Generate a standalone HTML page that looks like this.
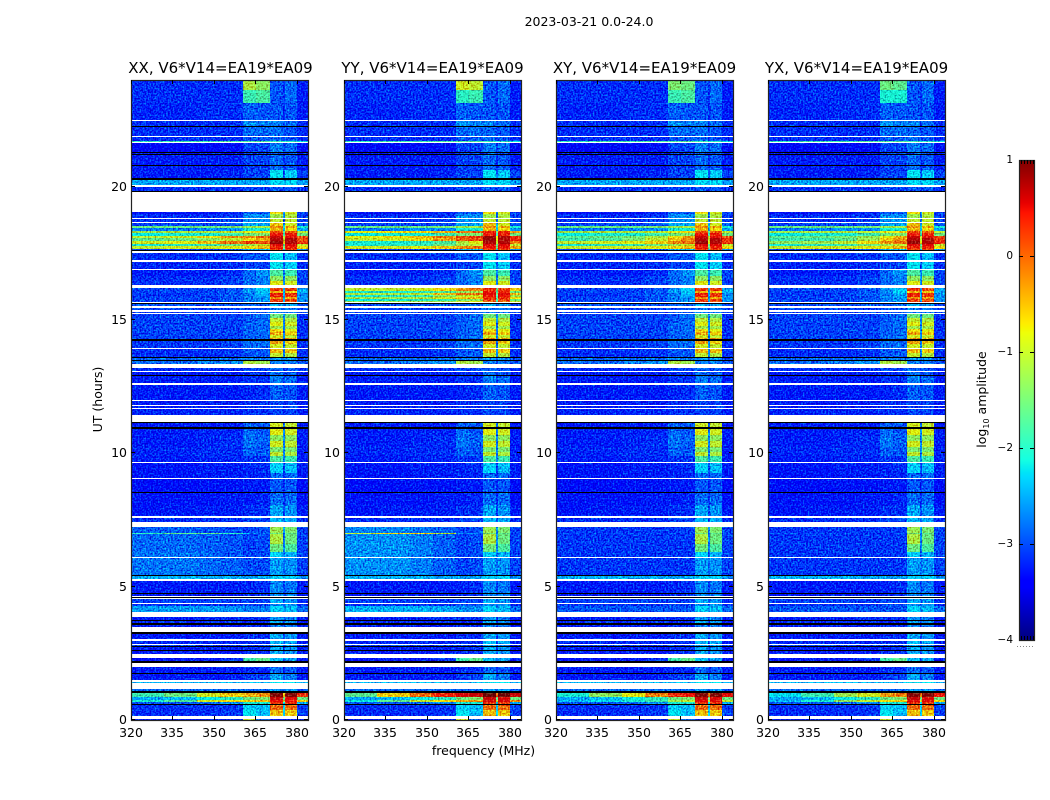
<!DOCTYPE html>
<html lang="en">
<head>
<meta charset="utf-8">
<title>2023-03-21 0.0-24.0</title>
<style>
html,body{margin:0;padding:0;background:#fff;}
svg{display:block;}
text{font-family:"DejaVu Sans","Liberation Sans",sans-serif;fill:#000;}
</style>
</head>
<body>
<svg id="figure" xmlns="http://www.w3.org/2000/svg" width="1050" height="800" viewBox="0 0 1050 800">
  <defs>
    <filter id="speckle" x="0" y="0" width="100%" height="100%" color-interpolation-filters="sRGB">
      <feTurbulence type="fractalNoise" baseFrequency="0.6" numOctaves="1" seed="4" result="noise"/>
      <feColorMatrix in="noise" type="matrix" result="tinted" values="0.3 0 0 0 0.27  1.6 0 0 0 -0.36  0.8 0 0 0 0.1  0 0 0 0 1"/>
      <feComposite in="SourceGraphic" in2="tinted" operator="arithmetic" k1="0" k2="1" k3="1" k4="-0.5" result="mixed"/>
      <feComposite in="mixed" in2="SourceAlpha" operator="in"/>
    </filter>
  </defs>
  <rect x="0" y="0" width="1050" height="800" fill="#fff"/>
  <text x="589" y="26" font-size="12.5" text-anchor="middle">2023-03-21 0.0-24.0</text>
  <text x="0" y="0" font-size="12.5" text-anchor="middle" transform="translate(102,399.5) rotate(-90)">UT (hours)</text>
  <text x="483.5" y="755" font-size="12.5" text-anchor="middle">frequency (MHz)</text>
  <text x="0" y="0" font-size="12.5" text-anchor="middle" transform="translate(986,399.5) rotate(-90)">log<tspan font-size="8" dy="3">10</tspan><tspan dy="-3"> amplitude</tspan></text>
  <g id="panels"></g>
  <g id="colorbar"></g>
</svg>
<script>
// Frequency bin edges (MHz) shared by all rows
const freqEdges = [320, 332, 344, 352, 360.5, 365.3, 370.4, 375, 375.8, 380, 384];

// Axis tick labels
const freqTicks = [320, 335, 350, 365, 380];
const utTicks = [0, 5, 10, 15, 20];
const cbarTicks = [-4, -3, -2, -1, 0, 1];

// XX spectrum: [lower UT edge, log10 amplitude per frequency bin].
// A row with only an edge has no data (white); 'k' marks a black flagged row.
const rowsXX = [
[23.625,-3.1,-3.1,-3.1,-3.1,-1.1,-1.3,-2.9,-3.1,-2.8,-3.2],
[23.14,-3.1,-3.1,-3.1,-3.1,-1.8,-1.7,-2.9,-3.1,-2.8,-3.2],
[22.5,-3.15,-3.15,-3.1,-3.1,-2.85,-2.9,-2.9,-3.1,-2.9,-3.2],
[22.46],
[22.26,-3.1,-3.1,-3.1,-3.1,-2.6,-2.7,-2.7,-3,-2.8,-3.1],
[22.22,'k'],
[21.9,-3.1,-3.1,-3.1,-3.1,-2.8,-2.8,-2.8,-3,-2.9,-3.1],
[21.86],
[21.71,-3.1,-3.1,-3.1,-3.1,-2.9,-2.9,-2.8,-3,-2.9,-3.1],
[21.66,-1.9,-1.8,-1.8,-1.7,-1.7,-1.7,-1.8,-2,-1.9,-2.1],
[21.64],
[21.3,-3.35,-3.35,-3.35,-3.3,-3,-3,-2.7,-3,-2.8,-3.3],
[21.26,'k'],
[21.23,-3.2,-3.2,-3.2,-3.2,-3,-3,-2.9,-3.1,-2.9,-3.2],
[21.19,'k'],
[20.81,-3.2,-3.2,-3.2,-3.2,-3,-3,-2.8,-3.1,-2.9,-3.2],
[20.78,'k'],
[20.63,-3.2,-3.2,-3.2,-3.2,-3,-3,-2.8,-3.1,-2.9,-3.2],
[20.31,-3.2,-3.2,-3.2,-3.15,-3,-3,-2.2,-2.9,-2.3,-3],
[20.26,'k'],
[20.06,-2.5,-2.5,-2.5,-2.5,-2.5,-2.5,-2.25,-2.45,-2.25,-2.55],
[19.99],
[19.84,-3.1,-3.1,-3.1,-3.1,-3,-3,-2.9,-3,-2.9,-3.1],
[19.8,'k'],
[19.05],
[18.99,-3.3,-3.3,-3.3,-3.2,-2.9,-2.9,-0.7,-2.6,-0.9,-3],
[18.96],
[18.83,-3.1,-3.1,-3.1,-3.05,-2.6,-2.6,-1.2,-2.8,-1.1,-3],
[18.77],
[18.68,-3.1,-3.1,-3.1,-3,-2.6,-2.6,-1,-2.8,-1,-3],
[18.64],
[18.53,-3,-3,-3,-2.9,-2.5,-2.5,-0.6,-2.6,-0.9,-2.9],
[18.45,-1.5,-1.5,-1.5,-1.4,-1.2,-1.1,-0.2,-2,-0.4,-2],
[18.34,-2.7,-2.7,-2.6,-2.6,-2,-2,-0.5,-2.4,-0.7,-2.5],
[18.26,-1.2,-1.1,-1.1,-1,-0.8,-0.7,0.1,-1.6,0,-1],
[18.15,-2.1,-2,-2,-1.8,-1.5,-1.4,0.4,-1.8,0.3,-1.5],
[18.08,-1,-0.9,-0.7,-0.3,-0.2,-0.1,0.6,-1,0.5,0.1],
[17.96,-1.6,-1.5,-1.3,-1,-0.6,-0.4,0.7,-1,0.7,0],
[17.85,-0.9,-0.8,-0.5,-0.1,0.1,0.1,0.8,-0.6,0.7,0.2],
[17.78,-2,-1.9,-1.8,-1.5,-1.2,-1,0.5,-1.6,0.5,-1],
[17.68,-1,-0.9,-0.9,-0.8,-0.7,-0.5,0.3,-1.4,0.3,-0.7],
[17.63,-3,-3,-3,-2.9,-2.5,-2.4,0.1,-2.4,0.1,-2.6],
[17.59,'k'],
[17.53],
[17.25,-3.1,-3.1,-3.1,-3.05,-2.9,-2.9,-2.2,-2.9,-2.4,-3.1],
[17.16],
[16.91,-3.15,-3.15,-3.15,-3.1,-3,-3,-2.2,-2.9,-2.3,-3.1],
[16.88],
[16.65,-3.2,-3.2,-3.2,-3.1,-2.8,-2.6,-1.7,-2.7,-1.8,-3],
[16.47,-3.1,-3.1,-3.1,-3,-2.8,-2.7,-1.3,-2.7,-1.3,-3],
[16.31,-3.1,-3.1,-3.1,-3,-2.8,-2.7,-0.8,-2.7,-0.9,-3],
[16.19],
[16.1,-3,-3,-3,-2.9,-2.6,-2.3,0.2,-2.5,0.1,-2.5],
[16.01,-3,-3,-3,-2.9,-2.6,-2.3,-0.5,-2.5,-0.6,-2.5],
[15.86,-3.05,-3.05,-3,-2.9,-2.7,-2.5,0.3,-2.5,0.2,-2.6],
[15.78,-3,-3,-3,-2.9,-2.7,-2.6,-0.3,-2.5,-0.4,-2.6],
[15.675,-3,-3,-3,-2.9,-2.7,-2.6,0.2,-2.5,0.1,-2.6],
[15.64],
[15.6,'k'],
[15.51,-2.9,-2.9,-2.9,-2.9,-2.85,-2.85,-2.5,-2.8,-2.5,-3],
[15.45],
[15.39,-3,-3,-3,-3,-2.9,-2.9,-2.7,-2.9,-2.7,-3],
[15.3],
[15.26,-3,-3,-3,-3,-2.9,-2.9,-2.7,-2.9,-2.7,-3],
[15.225],
[15.075,-3,-3,-3,-3,-2.9,-2.8,-1.5,-2.7,-1.5,-3.1],
[14.925,-3,-3,-3,-3,-2.9,-2.8,-1,-2.7,-1.1,-3.1],
[14.775,-3,-3,-3,-3,-2.85,-2.8,-0.8,-2.7,-0.9,-3.1],
[14.66,-3,-3,-3,-3,-2.85,-2.8,-1.2,-2.7,-1.2,-3.1],
[14.55,-3,-3,-3,-3,-2.85,-2.8,-0.7,-2.7,-0.8,-3.1],
[14.44,-3,-3,-3,-3,-2.85,-2.8,-0.4,-2.7,-0.6,-3.1],
[14.33,-3,-3,-3,-3,-2.85,-2.8,-0.9,-2.7,-1,-3.1],
[14.27,-3,-3,-3,-3,-2.85,-2.8,-0.3,-2.7,-0.5,-3.1],
[14.23,'k'],
[14.1,-3.05,-3.05,-3.05,-3,-2.8,-2.8,-0.4,-2.7,-0.6,-3.1],
[13.95,-3.05,-3.05,-3.05,-3,-2.8,-2.8,-0.9,-2.7,-1,-3.1],
[13.91],
[13.75,-3.1,-3.1,-3.1,-3.05,-2.9,-2.9,-0.5,-2.7,-0.6,-3.1],
[13.61,-3.1,-3.1,-3.1,-3.05,-2.9,-2.9,-1,-2.7,-1.1,-3.1],
[13.56,'k'],
[13.5,-2.8,-2.8,-2.8,-2.8,-2.7,-2.7,-2.6,-2.8,-2.6,-2.9],
[13.46,'k'],
[13.35,-2.8,-2.8,-2.7,-2.6,-1.1,-1.2,-2.7,-2.9,-2.7,-2.9],
[13.2],
[13.09,-3.1,-3.1,-3.1,-3.1,-3,-3,-2.8,-3,-2.9,-3.1],
[13.05],
[12.93,-3.2,-3.2,-3.2,-3.2,-3.1,-3.1,-2.8,-3,-2.9,-3.2],
[12.89,'k'],
[12.64,-3.2,-3.2,-3.2,-3.2,-3.1,-3.1,-2.7,-3,-2.8,-3.2],
[12.56],
[12,-3.2,-3.2,-3.2,-3.2,-3.15,-3.1,-2.85,-3,-2.9,-3.2],
[11.96],
[11.81,-3.2,-3.2,-3.2,-3.2,-3.1,-3.1,-3,-3.1,-3,-3.2],
[11.78],
[11.7,-3.2,-3.2,-3.2,-3.2,-3.1,-3.1,-3,-3.1,-3,-3.2],
[11.66],
[11.42,-3.15,-3.15,-3.15,-3.15,-3.1,-3.1,-3,-3.1,-3,-3.2],
[11.175],
[11.12,'k'],
[10.97,-3.2,-3.2,-3.2,-3.2,-2.85,-2.9,-0.9,-2.8,-1,-3.2],
[10.93,'k'],
[10.69,-3.2,-3.2,-3.15,-3.15,-2.8,-2.9,-0.8,-2.7,-0.9,-3.2],
[10.47,-3.2,-3.2,-3.15,-3.1,-2.75,-2.85,-1.3,-2.7,-1.3,-3.2],
[10.24,-3.2,-3.2,-3.15,-3.1,-2.75,-2.85,-0.9,-2.7,-1,-3.2],
[10.05,-3.15,-3.15,-3.1,-3.1,-2.85,-2.9,-1.4,-2.7,-1.4,-3.2],
[9.9,-3.15,-3.15,-3.1,-3.1,-2.85,-2.9,-1,-2.7,-1.1,-3.2],
[9.675,-3.2,-3.2,-3.15,-3.15,-3.05,-3.05,-1.7,-2.7,-1.8,-3.2],
[9.64],
[9.26,-3.25,-3.25,-3.2,-3.2,-3.15,-3.1,-2.3,-3,-2.4,-3.2],
[9.075,-3.25,-3.25,-3.2,-3.2,-3.15,-3.15,-2.8,-3.1,-2.8,-3.2],
[9.04],
[8.55,-3.3,-3.3,-3.25,-3.25,-3.2,-3.2,-2.9,-3.1,-2.9,-3.3],
[8.51,'k'],
[8.06,-3.25,-3.25,-3.25,-3.2,-3.2,-3.15,-2.8,-3.1,-2.8,-3.3],
[7.65,-3.25,-3.2,-3.2,-3.2,-3.1,-3.1,-2.5,-3,-2.6,-3.2],
[7.575],
[7.425,-3.1,-3.1,-3.1,-3.1,-3,-3,-2.4,-2.9,-2.5,-3.1],
[7.23],
[7.03,-2.85,-2.85,-2.9,-2.95,-3,-2.9,-1.2,-2.6,-1.4,-3],
[6.975,-1.9,-1.6,-1.6,-1.9,-2.6,-2.8,-1.5,-2.8,-1.6,-3],
[6.6,-2.8,-2.8,-2.85,-2.9,-3,-2.95,-1.1,-2.7,-1.5,-3],
[6.3,-2.8,-2.8,-2.85,-2.9,-3,-2.95,-1.5,-2.7,-1.7,-3],
[6.11,-2.75,-2.75,-2.8,-2.9,-3,-2.95,-2.3,-2.8,-2.45,-3],
[6.075],
[5.44,-2.75,-2.75,-2.8,-2.85,-2.95,-2.95,-2.55,-2.8,-2.6,-3],
[5.4,'k'],
[5.29,-2.45,-2.45,-2.45,-2.5,-2.5,-2.5,-2.3,-2.4,-2.3,-2.6],
[5.22],
[4.76,-3.2,-3.2,-3.2,-3.2,-3.15,-3.1,-2.65,-3,-2.75,-3.2],
[4.725,'k'],
[4.65,-3.2,-3.2,-3.2,-3.2,-3.1,-3.1,-2.65,-3,-2.75,-3.2],
[4.61],
[4.575,'k'],
[4.54],
[4.39,-3,-3,-3,-3,-3,-3,-2.5,-2.9,-2.6,-3.1],
[4.35],
[4.26,-3.1,-3.1,-3.1,-3.1,-3,-3,-2.6,-2.9,-2.6,-3.1],
[4.06,-2.55,-2.55,-2.55,-2.6,-2.7,-2.7,-2.3,-2.6,-2.4,-2.8],
[3.86],
[3.75,-3.2,-3.2,-3.15,-3.1,-3.1,-3.1,-2.6,-3,-2.7,-3.2],
[3.71,'k'],
[3.64,-3.1,-3.1,-3.1,-3.1,-3.1,-3.1,-2.5,-3,-2.6,-3.2],
[3.58,'k'],
[3.49,-3.2,-3.2,-3.2,-3.2,-3.1,-3.1,-2.7,-3,-2.7,-3.2],
[3.3],
[3.24,'k'],
[3.04,-3.2,-3.2,-3.2,-3.2,-3.1,-3.1,-2.5,-3,-2.6,-3.2],
[2.98],
[2.86,-3.15,-3.15,-3.15,-3.15,-3.1,-3.1,-2.4,-3,-2.5,-3.2],
[2.81],
[2.76,-3,-3,-3,-3,-3,-3,-2.5,-3,-2.6,-3.1],
[2.72,'k'],
[2.625,-3.2,-3.2,-3.2,-3.2,-3.1,-3.1,-2.5,-3,-2.6,-3.2],
[2.59,'k'],
[2.46,-3.2,-3.2,-3.2,-3.2,-3.1,-3.1,-2.5,-3,-2.6,-3.2],
[2.325],
[2.23,-3.25,-3.2,-3.2,-3.1,-1.8,-1.6,-2.4,-2.9,-2.5,-3.2],
[2.15,'k'],
[1.99],
[1.76,-3.2,-3.2,-3.2,-3.2,-3.1,-3.1,-2.8,-3.1,-2.9,-3.2],
[1.725,'k'],
[1.5,-3.2,-3.2,-3.2,-3.2,-3.05,-3,-2.5,-3,-2.7,-3.2],
[1.44],
[1.37,-2.4,-2.4,-2.4,-2.4,-2.4,-2.4,-2.2,-2.4,-2.2,-2.5],
[1.18],
[1.07,-2.8,-2.8,-2.8,-2.8,-2.8,-2.8,-2.6,-2.8,-2.6,-2.9],
[1.03,'k'],
[0.86,-1.8,-1.5,-0.9,-0.6,-0.4,-0.3,0.9,-0.5,0.9,0.2],
[0.75,-2.5,-2.4,-2.1,-1.9,-1.5,-1.4,0.6,-1.5,0.5,-1.5],
[0.675,-2,-1.7,-0.9,-0.7,-0.6,-0.5,0.45,-1,0.45,-0.6],
[0.6,-2.9,-2.9,-2.8,-2.6,-2,-2,0.2,-2.2,0.2,-2.5],
[0.56,'k'],
[0.375,-3.1,-3.1,-3.1,-3.05,-2.3,-2.4,-0.1,-2.3,-0.1,-3],
[0.15,-3.1,-3.1,-3.1,-3.05,-2.2,-2.4,-0.5,-2.3,-0.6,-3],
[0.03],
[0,-3.2,-3.2,-3.2,-3.2,-0.9,-2.8,-3.2,-3.2,-3.2,-3.2]
];

// Per-panel differences from XX: [upper UT, lower UT, level per bin]; null keeps the XX value.
const diffYY = [
[24,23.625,null,null,null,null,-0.9,-1,null,null,null,null],
[23.625,23.14,null,null,null,null,-1.9,-1.8,null,null,null,null],
[18.34,18.26,-0.8,-0.7,-0.7,-0.4,-0.1,0,0.3,-1.4,0.3,-0.3],
[18.15,18.08,-0.8,-0.7,-0.5,-0.2,0.1,0.2,0.8,-0.8,0.7,0.3],
[18.08,17.96,-1,-0.9,-0.7,-0.3,0,0.1,0.8,-0.8,0.7,0.3],
[17.96,17.85,-2,-2,-1.9,-1.7,-1.1,-0.8,0.7,-1,0.7,-0.2],
[17.78,17.68,-0.9,-0.9,-0.8,-0.6,-0.3,-0.2,0.4,-1.4,0.4,-0.4],
[16.19,16.09,-1,-1,-0.9,-0.7,-0.3,-0.2,0.2,-1.6,0.2,-0.6],
[16.09,16,-2,-2,-1.9,-1.7,-1.3,-1.2,0.4,-1.8,0.3,-1.5],
[16,15.92,-1.1,-1.1,-1,-0.5,-0.1,-0.1,0.5,-1.4,0.5,-0.5],
[15.92,15.86,-2,-1.9,-1.8,-1.3,-1,-0.9,0.4,-1.8,0.4,-1.2],
[15.86,15.79,-1.2,-1.2,-1.1,-0.9,-0.6,-0.5,0.2,-1.6,0.2,-0.7],
[15.79,15.71,-2.1,-2,-1.9,-1.8,-1.4,-1.3,0.2,-1.8,0.1,-1.5],
[15.71,15.675,-1.3,-1.2,-1.2,-1.2,-0.9,-0.8,-0.1,-1.7,-0.1,-1],
[7.23,7.03,-2.65,-2.65,-2.75,-2.85,null,null,null,null,null,null],
[7.03,6.975,-1,-0.6,-0.6,-1.1,-2.6,-2.8,null,null,null,null],
[6.975,6.11,-2.6,-2.6,-2.7,-2.85,-3,-2.95,null,null,null,null],
[6.075,5.44,-2.6,-2.6,-2.7,-2.85,-3,-2.95,null,null,null,null],
[4.26,4.06,-2.45,-2.45,-2.45,-2.5,-2.6,-2.6,null,null,null,null],
[1.03,0.86,-1.6,-0.6,-0.1,0.3,0.55,0.6,1,0,1,0.6],
[0.75,0.675,-2.1,-1.6,-1,-0.7,-0.4,-0.3,0.55,-1,0.55,-0.3]
];
const diffXY = [
[24,23.625,null,null,null,null,-1.4,-1.5,null,null,null,null],
[18.15,18.08,-1.6,-1.5,-1.4,-1.1,-0.7,-0.4,null,null,null,null],
[18.08,17.96,-1.8,-1.7,-1.4,-1,-0.5,-0.2,0.7,-1,0.7,0.2],
[17.96,17.85,-1,-0.9,-0.8,-0.6,-0.3,-0.1,0.8,-0.8,0.7,0.2],
[7.23,7.03,-3.05,-3.05,-3.05,-3.05,-3.05,-3,null,null,null,null],
[7.03,6.975,-3,-3,-3,-3,-3,-3,null,null,null,null],
[6.975,6.11,-3.05,-3.05,-3.05,-3.05,-3.05,-3.05,null,null,null,null],
[6.075,5.44,-3.05,-3.05,-3.05,-3.05,-3.05,-3.05,null,null,null,null],
[4.26,4.06,-2.9,-2.9,-2.9,-2.9,-2.9,-2.9,null,null,null,null],
[1.03,0.86,-2,-1.3,-0.8,-0.2,0.3,0.4,0.9,-0.3,0.9,0.5],
[0.75,0.675,-2.4,-2.2,-2,-1.8,-1.2,-1,0.5,-1,0.5,-1]
];
const diffYX = [
[24,23.625,null,null,null,null,-1.5,-1.6,null,null,null,null],
[23.625,23.14,null,null,null,null,-2,-2,null,null,null,null],
[18.15,18.08,-1.6,-1.5,-1.4,-1.2,-0.8,-0.5,null,null,null,null],
[18.08,17.96,-1.8,-1.8,-1.6,-1.2,-0.6,-0.3,0.7,-1,0.7,0.2],
[17.96,17.85,-1.3,-1.2,-1,-0.7,-0.3,-0.1,0.8,-0.8,0.7,0.3],
[7.23,7.03,-3.05,-3.05,-3.05,-3.05,-3.05,-3,null,null,null,null],
[7.03,6.975,-3,-3,-3,-3,-3,-3,null,null,null,null],
[6.975,6.11,-3.05,-3.05,-3.05,-3.05,-3.05,-3.05,null,null,null,null],
[6.075,5.44,-3.05,-3.05,-3.05,-3.05,-3.05,-3.05,null,null,null,null],
[4.26,4.06,-2.9,-2.9,-2.9,-2.9,-2.9,-2.9,null,null,null,null],
[1.03,0.86,-2.2,-1.8,-1.2,-0.9,-0.3,-0.2,0.9,-0.3,0.9,0.4],
[0.75,0.675,-2.4,-2,-1.3,-1,-0.7,-0.6,0.5,-1,0.5,-0.7]
];

// Panel titles paired with their difference arrays
const panelTitles = ['XX, V6*V14=EA19*EA09', 'YY, V6*V14=EA19*EA09', 'XY, V6*V14=EA19*EA09', 'YX, V6*V14=EA19*EA09'];
const panelDiffs = [[], diffYY, diffXY, diffYX];

const SVG_NS = 'http://www.w3.org/2000/svg';
const panelLefts = [131, 344, 556, 768];
const titleCenters = [220.5, 432.5, 644.5, 856.5];
const PLOT_W = 177, PLOT_TOP = 80, PLOT_BOTTOM = 720;
const FREQ_MIN = 320, FREQ_MAX = 384, UT_MAX = 24;
const CB_MIN = -4, CB_MAX = 1, CB_LEFT = 1019, CB_W = 15, CB_TOP = 160, CB_BOTTOM = 640;

function xScale(left, f) { return left + (f - FREQ_MIN) * PLOT_W / (FREQ_MAX - FREQ_MIN); }
function yScale(ut) { return PLOT_BOTTOM - ut * (PLOT_BOTTOM - PLOT_TOP) / UT_MAX; }
function cbScale(v) { return CB_BOTTOM - (v - CB_MIN) * (CB_BOTTOM - CB_TOP) / (CB_MAX - CB_MIN); }

function interp(stops, t) {
  for (let i = 1; i < stops.length; i++) {
    if (t <= stops[i][0]) {
      const a = stops[i - 1], b = stops[i];
      return a[1] + (b[1] - a[1]) * (t - a[0]) / (b[0] - a[0]);
    }
  }
  return stops[stops.length - 1][1];
}
const jetR = [[0, 0], [0.35, 0], [0.66, 1], [0.89, 1], [1, 0.5]];
const jetG = [[0, 0], [0.125, 0], [0.375, 1], [0.64, 1], [0.91, 0], [1, 0]];
const jetB = [[0, 0.5], [0.11, 1], [0.34, 1], [0.65, 0], [1, 0]];
function jet(v) {
  const t = Math.max(0, Math.min(1, (v - CB_MIN) / (CB_MAX - CB_MIN)));
  return 'rgb(' + Math.round(interp(jetR, t) * 255) + ',' + Math.round(interp(jetG, t) * 255) + ',' + Math.round(interp(jetB, t) * 255) + ')';
}

function make(tag, attrs, parent) {
  const el = document.createElementNS(SVG_NS, tag);
  for (const k in attrs) el.setAttribute(k, attrs[k]);
  parent.appendChild(el);
  return el;
}

function drawCells(group, left, top, bottom, levels) {
  const y0 = Math.round(yScale(top));
  const y1 = Math.round(yScale(bottom));
  for (let c = 0; c < freqEdges.length - 1; c++) {
    const v = levels[c];
    if (v === null || v === undefined) continue;
    const x0 = Math.round(xScale(left, freqEdges[c]));
    const x1 = Math.round(xScale(left, freqEdges[c + 1]));
    const cell = make('rect', { x: x0, y: y0, width: x1 - x0, height: Math.max(1, y1 - y0), fill: jet(v), 'shape-rendering': 'crispEdges' }, group);
    
    
  }
}

const panelsRoot = document.getElementById('panels');
panelTitles.forEach(function (title, p) {
  const left = panelLefts[p];
  const panel = make('g', {}, panelsRoot);
  
  

  const cells = make('g', { filter: 'url(#speckle)' }, panel);
  
  
  const flagged = make('g', {}, panel);
  
  

  let upper = UT_MAX;
  rowsXX.forEach(function (row) {
    const lower = row[0];
    if (row[1] === 'k') {
      const y0 = Math.round(yScale(upper));
      const bar = make('rect', { x: left, y: y0, width: PLOT_W, height: Math.max(1, Math.round(yScale(lower)) - y0), fill: '#000', 'shape-rendering': 'crispEdges' }, flagged);
      
      
    } else if (row.length > 1) {
      drawCells(cells, left, upper, lower, row.slice(1));
    }
    upper = lower;
  });
  panelDiffs[p].forEach(function (d) {
    drawCells(cells, left, d[0], d[1], d.slice(2));
  });

  const frame = make('rect', { x: left + 0.5, y: PLOT_TOP + 0.5, width: PLOT_W, height: PLOT_BOTTOM - PLOT_TOP, fill: 'none', stroke: '#222', 'stroke-width': 1.2 }, panel);
  
  

  const heading = make('text', { x: titleCenters[p], y: 73, 'font-size': 15, 'text-anchor': 'middle' }, panel);
  heading.textContent = title;
  
  

  freqTicks.forEach(function (f) {
    const x = Math.round(xScale(left, f)) + 0.5;
    const xTick = make('path', { d: 'M' + x + ' 720V716M' + x + ' 80V84', stroke: '#000', 'stroke-width': 1, fill: 'none' }, panel);
    
    
    const label = make('text', { x: x - 0.5, y: 737, 'font-size': 12.5, 'text-anchor': 'middle' }, panel);
    label.textContent = f;
    
    
  });
  utTicks.forEach(function (u) {
    const y = Math.round(yScale(u)) - 0.5;
    const yTick = make('path', { d: 'M' + left + ' ' + y + 'h4M' + (left + PLOT_W) + ' ' + y + 'h-4', stroke: '#000', 'stroke-width': 1, fill: 'none' }, panel);
    
    
    const label = make('text', { x: left - 4, y: y + 4.5, 'font-size': 12.5, 'text-anchor': 'end' }, panel);
    label.textContent = u;
    
    
  });
});

// Colorbar: one strip per pixel row, coloured through the same jet scale
const cbRoot = document.getElementById('colorbar');
for (let py = CB_TOP; py < CB_BOTTOM; py++) {
  const v = CB_MAX - (py + 0.5 - CB_TOP) * (CB_MAX - CB_MIN) / (CB_BOTTOM - CB_TOP);
  const strip = make('rect', { x: CB_LEFT, y: py, width: CB_W, height: 1, fill: jet(v), 'shape-rendering': 'crispEdges' }, cbRoot);
  
  
}
const cbFrame = make('rect', { x: CB_LEFT + 0.5, y: CB_TOP + 0.5, width: CB_W, height: CB_BOTTOM - CB_TOP, fill: 'none', stroke: '#222', 'stroke-width': 1.2 }, cbRoot);


cbarTicks.forEach(function (v) {
  const y = Math.round(cbScale(v));
  if (v !== CB_MIN && v !== CB_MAX) {
    const cbTick = make('path', { d: 'M' + CB_LEFT + ' ' + (y + 0.5) + 'h4M' + (CB_LEFT + CB_W) + ' ' + (y + 0.5) + 'h-4', stroke: '#000', 'stroke-width': 1, fill: 'none' }, cbRoot);
    
    
  }
  const label = make('text', { x: 1013, y: y + 3, 'font-size': 10.5, 'text-anchor': 'end' }, cbRoot);
  label.textContent = (v < 0 ? '\u2212' + (-v) : String(v));
  
  
});
const cbEndTicks = make('path', { d: 'M1021.5 160v4M1024.5 160v4M1027.5 160v4M1030.5 160v4M1033.5 160v4M1021.5 640v-4M1024.5 640v-4M1027.5 640v-4M1030.5 640v-4M1033.5 640v-4', stroke: '#000', 'stroke-width': 1, fill: 'none' }, cbRoot);


const cbDots = make('path', { d: 'M1017 646.5H1035', stroke: '#888', 'stroke-width': 1, 'stroke-dasharray': '1 2', fill: 'none' }, cbRoot);


</script>
</body>
</html>
